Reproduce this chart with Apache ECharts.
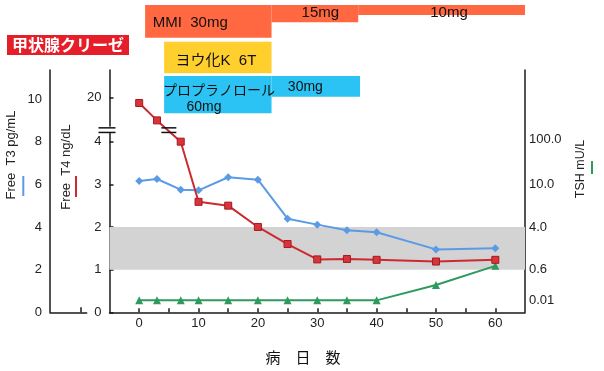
<!DOCTYPE html>
<html><head><meta charset="utf-8">
<script src="https://cdn.jsdelivr.net/npm/echarts@6/dist/echarts.min.js"></script>
<style>html,body{margin:0;padding:0;background:#fff}#c{width:604px;height:371px}</style>
</head><body><div id="c"></div>
<script>
// ---------------- data ----------------
const days = [0, 3, 7, 10, 15, 20, 25, 30, 35, 40, 50, 60];
const freeT3 = [6.16, 6.25, 5.75, 5.72, 6.33, 6.22, 4.39, 4.11, 3.85, 3.75, 2.95, 3.0];
const freeT4 = [17.1, 8.3, 4.0, 2.59, 2.5, 2.0, 1.6, 1.24, 1.25, 1.23, 1.19, 1.23];
const tsh = [0.01, 0.01, 0.01, 0.01, 0.01, 0.01, 0.01, 0.01, 0.01, 0.01, 0.077, 0.71];
const xTickDays = [0, 5, 10, 15, 20, 25, 30, 35, 40, 45, 50, 55, 60];
const xLabelDays = [0, 10, 20, 30, 40, 50, 60];
const t3Ticks = [0, 2, 4, 6, 8, 10];
const t4Ticks = [0, 1, 2, 3, 4, 20];
const tshTicks = [0.01, 0.6, 4.0, 10.0, 100.0];
const tshTickLabels = ['0.01', '0.6', '4.0', '10.0', '100.0'];
const t4NormalRange = [1, 2];
const breakDays = [-5, 5];      // axis break and line break positions (day)
const mmiStart = [1, 22.3, 36.9];
const mmiEnd = [22.3, 36.9, 65];
const mmiLabels = ['MMI  30mg', '15mg', '10mg'];
const kiStart = [4.2];
const kiEnd = [22.3];
const kiLabels = ['ヨウ化K  6T'];
const propStart = [4.2, 22.3];
const propEnd = [22.3, 37.2];
const propLabels = ['60mg', '30mg'];
const propName = 'プロプラノロール';
const crisisTitle = '甲状腺クリーゼ';
const xTitle = '病　日　数';

// ---------------- scales (broken / custom axes) ----------------
const T4_BREAK = 4, T4_BREAK_DISP = 4.3, T4_UPPER_K = 0.74 / 16;
function t4ToDisp(v) { return v <= T4_BREAK ? v : T4_BREAK_DISP + (v - T4_BREAK) * T4_UPPER_K; }
const tshAnchorDisp = [0.28, 1, 2, 3, 4.05];
function tshToDisp(v) {
  const lv = Math.log10(v);
  for (let i = 0; i < tshTicks.length - 1; i++) {
    const a = Math.log10(tshTicks[i]), b = Math.log10(tshTicks[i + 1]);
    if (lv <= b || i === tshTicks.length - 2) {
      return tshAnchorDisp[i] + (lv - a) / (b - a) * (tshAnchorDisp[i + 1] - tshAnchorDisp[i]);
    }
  }
}
const DISP_MAX = 5.68;
const breakDisp = 4.27;

// ---------------- layout / styles ----------------
const FONT = "'Liberation Sans', Arial, 'Noto Sans CJK JP', sans-serif";
const JFONT = "'Noto Sans CJK JP', 'Liberation Sans', sans-serif";
const AX = '#1a1a1a', TXT = '#222';
const G = { left: 109.5, top: 70, width: 415.5, height: 242.3 };
const C_MMI = '#FF6840', C_KI = '#FFCF2E', C_PROP = '#2BC3F3';
const mmiRows = { top: [5, 5, 5], bottom: [37.7, 22.3, 15], labDx: [7.6, 30, 72], labY: [23.3, 13.3, 13.3], fs: 15 };
const kiRows = { top: [41.7], bottom: [73.3], labDx: [11.4], labY: [61], fs: 15 };
const propRows = { top: [76, 76], bottom: [113.3, 96.7], labDx: [22.4, 16.3], labY: [107.5, 86.7], fs: 14 };

function barSeries(starts, ends, labels, rows, color, extra) {
  return {
    type: 'custom', coordinateSystem: 'cartesian2d', xAxisIndex: 0, yAxisIndex: 0,
    clip: false, silent: true, z: 5,
    data: starts.map((s, i) => [s, ends[i], i]),
    renderItem: function (params, api) {
      const i = api.value(2);
      const x0 = api.coord([api.value(0), 0])[0];
      const x1 = api.coord([api.value(1), 0])[0];
      const children = [{
        type: 'rect', shape: { x: x0, y: rows.top[i], width: x1 - x0, height: rows.bottom[i] - rows.top[i] },
        style: { fill: color }
      }, {
        type: 'text', style: { x: x0 + rows.labDx[i], y: rows.labY[i], text: labels[i], fill: '#111',
          font: rows.fs + 'px ' + FONT, textAlign: 'left', textVerticalAlign: 'middle' }, z2: 10
      }];
      if (extra && i === 0) children.push(extra(x0));
      return { type: 'group', children: children };
    }
  };
}

const chart = echarts.init(document.getElementById('c'), null, { renderer: 'canvas' });
chart.setOption({
  animation: false,
  backgroundColor: '#fff',
  title: {
    text: crisisTitle, left: 7, top: 35, padding: [2, 5, 2, 5], backgroundColor: '#E51E29',
    textStyle: { color: '#fff', fontSize: 16, fontWeight: 'bold', fontFamily: JFONT, lineHeight: 16 }
  },
  grid: [
    { left: G.left, top: G.top, width: G.width, height: G.height },
    { left: 50, top: G.top, width: 36.7, height: G.height }
  ],
  xAxis: [{
    type: 'value', gridIndex: 0, min: -5, max: 65,
    axisLine: { show: true, onZero: false, lineStyle: { color: AX, width: 1.5 } },
    axisTick: { show: true, inside: true, length: 4, customValues: xTickDays, lineStyle: { color: AX, width: 1.5 } },
    axisLabel: { customValues: xLabelDays, color: TXT, fontSize: 13, fontFamily: FONT, margin: 5 },
    splitLine: { show: false }
  }, {
    type: 'value', gridIndex: 1, min: 0, max: 1,
    axisLine: { show: true, onZero: false, lineStyle: { color: AX, width: 1.5 } },
    axisTick: { show: true, inside: true, length: 5, customValues: [0.836], lineStyle: { color: AX, width: 1.5 } },
    axisLabel: { show: false }, splitLine: { show: false }
  }],
  yAxis: [{
    // Free T4 (display scale with break)
    type: 'value', gridIndex: 0, min: 0, max: DISP_MAX, position: 'left',
    axisLine: { show: true, onZero: false, lineStyle: { color: AX, width: 1.5 } },
    axisTick: { show: true, inside: true, length: 4, customValues: t4Ticks.map(t4ToDisp), lineStyle: { color: AX, width: 1.5 } },
    axisLabel: {
      customValues: t4Ticks.map(t4ToDisp), color: TXT, fontSize: 13, fontFamily: FONT, margin: 8, padding: [4, 0, 0, 0],
      formatter: function (v) {
        let best = 0;
        t4Ticks.forEach((t, i) => { if (Math.abs(t4ToDisp(t) - v) < Math.abs(t4ToDisp(t4Ticks[best]) - v)) best = i; });
        return String(t4Ticks[best]);
      }
    },
    splitLine: { show: false }
  }, {
    // Free T3
    type: 'value', gridIndex: 0, min: 0, max: DISP_MAX * 2, position: 'left', offset: G.left - 50,
    axisLine: { show: true, onZero: false, lineStyle: { color: AX, width: 1.5 } },
    axisTick: { show: false },
    axisLabel: { customValues: t3Ticks, color: TXT, fontSize: 13, fontFamily: FONT, margin: 8, padding: [4, 0, 0, 0] },
    splitLine: { show: false }
  }, {
    // TSH
    type: 'value', gridIndex: 0, min: 0, max: DISP_MAX, position: 'right',
    axisLine: { show: true, onZero: false, lineStyle: { color: AX, width: 1.5 } },
    axisTick: { show: false },
    axisLabel: {
      customValues: tshTicks.map(tshToDisp), color: TXT, fontSize: 13, fontFamily: FONT, margin: 4, padding: [5, 0, 0, 0],
      formatter: function (v) {
        let best = 0;
        tshTicks.forEach((t, i) => { if (Math.abs(tshToDisp(t) - v) < Math.abs(tshToDisp(tshTicks[best]) - v)) best = i; });
        return tshTickLabels[best];
      }
    },
    splitLine: { show: false }
  }, {
    type: 'value', gridIndex: 1, min: 0, max: 1, show: false
  }],
  series: [
    {
      name: 'band', type: 'line', xAxisIndex: 0, yAxisIndex: 0, data: [], z: 1, silent: true,
      markArea: {
        silent: true, itemStyle: { color: '#D3D3D3', opacity: 1 },
        data: [[{ yAxis: t4ToDisp(t4NormalRange[0]) }, { yAxis: t4ToDisp(t4NormalRange[1]) }]]
      }
    },
    {
      name: 'Free T3', type: 'line', xAxisIndex: 0, yAxisIndex: 1, z: 3,
      data: days.map((d, i) => [d, freeT3[i]]),
      symbol: 'diamond', symbolSize: 8,
      lineStyle: { color: '#5B9BE6', width: 2 },
      itemStyle: { color: '#5B9BE6' }
    },
    {
      name: 'TSH', type: 'line', xAxisIndex: 0, yAxisIndex: 2, z: 3,
      data: days.map((d, i) => [d, tshToDisp(tsh[i])]),
      symbol: 'triangle', symbolSize: 8,
      lineStyle: { color: '#2E9A5E', width: 2 },
      itemStyle: { color: '#2E9A5E' }
    },
    {
      name: 'Free T4', type: 'line', xAxisIndex: 0, yAxisIndex: 0, z: 4,
      data: days.map((d, i) => [d, t4ToDisp(freeT4[i])]),
      symbol: 'rect', symbolSize: 7,
      lineStyle: { color: '#CC2A30', width: 2 },
      itemStyle: { color: '#D8343C', borderColor: '#A51A20', borderWidth: 1 }
    },
    {
      // break marks on axis and on the Free T4 line
      type: 'custom', coordinateSystem: 'cartesian2d', xAxisIndex: 0, yAxisIndex: 0, clip: false, silent: true, z: 6,
      data: breakDays.map((d, i) => [d, breakDisp, i]),
      renderItem: function (params, api) {
        const p = api.coord([api.value(0), api.value(1)]);
        const i = api.value(2);
        const l = i === 0 ? 11 : 7.5, r = i === 0 ? 6 : 7.5;
        const ch = [];
        if (i === 0) ch.push({ type: 'rect', shape: { x: p[0] - 2, y: p[1] - 3.5, width: 4, height: 5.5 }, style: { fill: '#fff' } });
        ch.push({ type: 'line', shape: { x1: p[0] - l, y1: p[1] - 2.3, x2: p[0] + r, y2: p[1] - 2.3 }, style: { stroke: '#111', lineWidth: 1.5 } });
        ch.push({ type: 'line', shape: { x1: p[0] - l, y1: p[1] + 2.3, x2: p[0] + r, y2: p[1] + 2.3 }, style: { stroke: '#111', lineWidth: 1.5 } });
        return { type: 'group', children: ch };
      }
    },
    barSeries(mmiStart, mmiEnd, mmiLabels, mmiRows, C_MMI),
    barSeries(kiStart, kiEnd, kiLabels, kiRows, C_KI),
    barSeries(propStart, propEnd, propLabels, propRows, C_PROP, function (x0) {
      return { type: 'text', style: { x: x0 - 1, y: 89.5, text: propName, fill: '#111', font: '14px ' + JFONT,
        textAlign: 'left', textVerticalAlign: 'middle' }, z2: 10 };
    })
  ],
  graphic: [
    { type: 'text', x: 11, y: 155, rotation: Math.PI / 2,
      style: { text: 'Free  T3 pg/mL', font: '13px ' + FONT, fill: TXT, textAlign: 'center', textVerticalAlign: 'middle' } },
    { type: 'line', shape: { x1: 23.3, y1: 176, x2: 23.3, y2: 196 }, style: { stroke: '#5B9BE6', lineWidth: 2 } },
    { type: 'text', x: 66, y: 167, rotation: Math.PI / 2,
      style: { text: 'Free  T4 ng/dL', font: '13px ' + FONT, fill: TXT, textAlign: 'center', textVerticalAlign: 'middle' } },
    { type: 'line', shape: { x1: 76, y1: 176, x2: 76, y2: 197 }, style: { stroke: '#CC2A30', lineWidth: 2 } },
    { type: 'text', x: 581, y: 169, rotation: Math.PI / 2,
      style: { text: 'TSH mU/L', font: '12.5px ' + FONT, fill: TXT, textAlign: 'center', textVerticalAlign: 'middle' } },
    { type: 'line', shape: { x1: 592, y1: 161, x2: 592, y2: 174 }, style: { stroke: '#2E9A5E', lineWidth: 2 } },
    { type: 'text', x: 303, y: 357,
      style: { text: xTitle, font: '15px ' + JFONT, fill: '#111', textAlign: 'center', textVerticalAlign: 'middle' } }
  ]
});
</script>
</body></html>
